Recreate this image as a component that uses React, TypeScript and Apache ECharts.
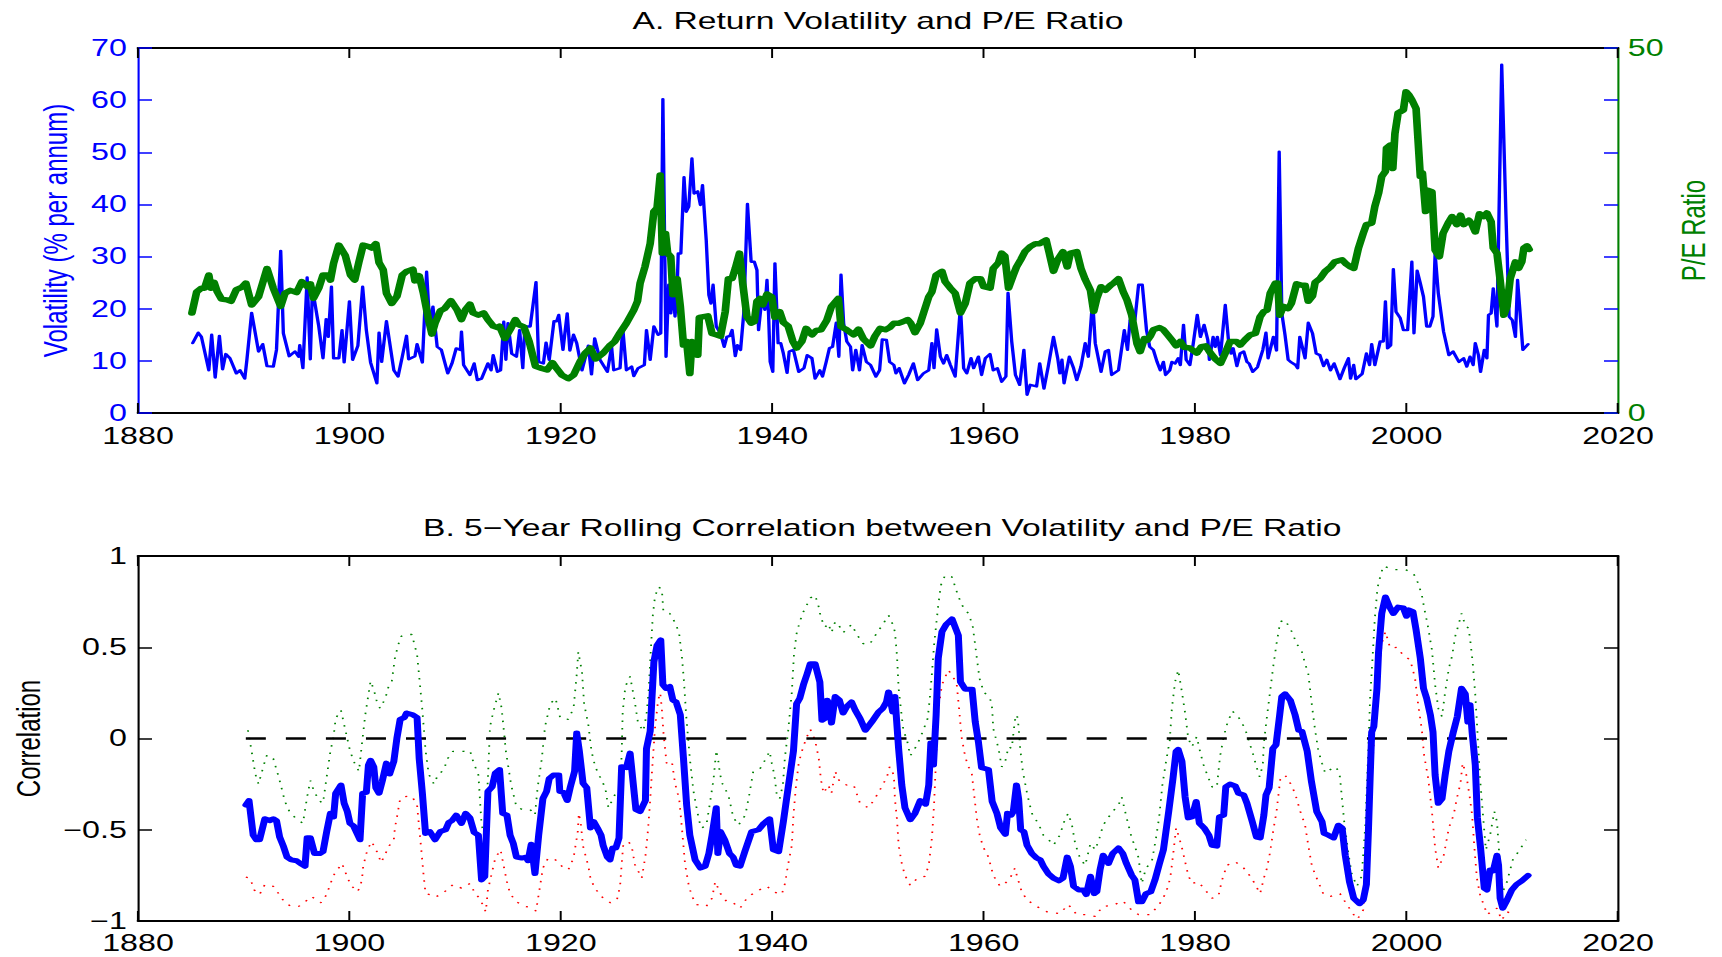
import React, { useEffect, useRef } from "react";
import * as echarts from "echarts";

// The reference figure is horizontally stretched (text and dots are wider than tall).
const STRETCH = 1.4;
const FULL_W = 1722;
const FULL_H = 957;
const W = FULL_W / STRETCH;

const FONT = "'Liberation Sans', Arial, Helvetica, sans-serif";
const BLUE = "#0000ff";
const GREEN = "#008000";
const RED = "#ff0000";
const BLACK = "#000000";

const titleA = "A. Return Volatility and P/E Ratio";
const titleB = "B. 5\u2212Year Rolling Correlation between Volatility and P/E Ratio";
const volName = "Volatility (% per annum)";
const peName = "P/E Ratio";
const corrName = "Correlation";

const yearMin = 1880;
const yearMax = 2020;
const yearStep = 20;

// Panel A: return volatility (% per annum), [year, value]
const volData: [number, number][] = [
  [1885.17,13.4],[1885.7,15.4],[1886.0,14.6],[1886.7,8.2],[1886.97,15.0],[1887.3,6.8],[1887.7,14.8],[1888.0,8.4],[1888.3,11.3],[1888.7,10.5],
  [1889.3,7.6],[1889.65,8.2],[1890.1,6.6],[1890.3,10.2],[1890.75,19.2],[1891.4,11.8],[1891.8,13.2],[1892.2,9.0],[1892.8,8.9],[1893.1,12.1],
  [1893.5,31.1],[1893.75,15.3],[1894.3,10.9],[1894.85,11.8],[1895.2,10.8],[1895.3,13.0],[1895.6,8.6],[1896.0,26.0],[1896.3,10.3],[1896.5,23.9],
  [1897.1,16.6],[1897.5,10.5],[1897.8,18.0],[1898.0,14.6],[1898.3,24.2],[1898.5,10.5],[1899.0,10.5],[1899.3,15.9],[1899.5,9.7],[1900.0,21.4],
  [1900.3,10.2],[1900.8,12.9],[1901.25,24.2],[1901.6,15.9],[1902.0,9.7],[1902.6,5.7],[1902.8,15.4],[1903.05,9.8],[1903.5,17.6],[1904.2,8.2],
  [1904.6,7.0],[1905.0,10.8],[1905.4,14.8],[1905.6,10.3],[1906.2,10.9],[1906.4,13.2],[1906.9,9.7],[1907.3,27.1],[1907.6,16.6],[1907.9,20.4],
  [1908.3,12.7],[1908.7,12.1],[1909.3,7.6],[1909.7,9.5],[1910.1,12.4],[1910.5,12.1],[1910.6,15.6],[1910.8,9.2],[1911.4,7.3],[1911.8,9.5],
  [1912.1,6.3],[1912.5,6.6],[1913.1,9.5],[1913.4,8.2],[1913.6,11.1],[1914.0,7.9],[1914.3,8.2],[1914.6,17.5],[1914.8,10.2],[1915.0,17.2],
  [1915.35,11.4],[1915.8,10.8],[1916.1,15.9],[1916.4,8.6],[1916.6,16.6],[1917.1,16.6],[1917.65,25.1],[1917.9,9.8],[1918.35,9.5],[1918.6,13.5],
  [1918.9,10.2],[1919.35,17.6],[1919.6,17.6],[1919.8,18.8],[1920.2,12.1],[1920.6,19.1],[1920.85,12.0],[1921.2,15.0],[1921.5,13.4],[1922.0,8.2],
  [1922.6,12.9],[1922.9,7.4],[1923.2,14.3],[1923.7,10.2],[1924.4,7.9],[1924.8,12.7],[1925.0,8.2],[1925.6,8.6],[1925.85,16.4],[1926.2,8.2],
  [1926.7,8.9],[1926.9,7.1],[1927.3,8.6],[1927.9,9.2],[1928.1,15.9],[1928.45,10.2],[1928.8,16.6],[1929.2,15.0],[1929.45,15.3],[1929.65,60.2],
  [1929.95,10.8],[1930.2,24.6],[1930.4,19.1],[1930.6,23.6],[1930.8,18.5],[1931.0,23.9],[1931.1,30.6],[1931.35,30.6],[1931.65,45.2],[1931.85,38.6],
  [1932.1,39.6],[1932.4,48.8],[1932.6,42.1],[1932.95,42.5],[1933.2,39.9],[1933.4,43.7],[1933.75,33.2],[1934.0,22.6],[1934.2,21.0],[1934.4,24.6],
  [1934.7,16.6],[1935.1,15.3],[1935.45,12.7],[1935.7,14.6],[1936.0,14.8],[1936.2,15.9],[1936.5,10.9],[1936.7,13.0],[1937.0,12.1],[1937.3,19.1],
  [1937.65,40.1],[1938.0,29.0],[1938.3,29.0],[1938.55,27.4],[1938.7,15.9],[1939.0,21.7],[1939.3,19.8],[1939.5,25.5],[1939.65,18.8],[1939.8,9.8],
  [1940.05,7.9],[1940.25,28.7],[1940.55,13.4],[1940.8,13.4],[1941.05,11.4],[1941.4,7.7],[1941.6,11.8],[1942.0,12.1],[1942.5,7.9],[1943.0,8.6],
  [1943.3,11.1],[1943.75,10.5],[1944.05,6.6],[1944.5,8.2],[1944.75,7.0],[1945.1,9.8],[1945.4,12.4],[1945.7,12.7],[1946.05,17.3],[1946.3,10.8],
  [1946.5,26.5],[1946.75,17.2],[1947.05,13.7],[1947.4,12.7],[1947.6,8.2],[1947.9,12.1],[1948.25,8.2],[1948.5,13.0],[1948.9,9.8],[1949.3,9.2],
  [1949.8,7.0],[1950.15,8.2],[1950.4,14.1],[1950.8,14.0],[1951.1,9.8],[1951.5,9.2],[1951.7,7.6],[1952.0,8.6],[1952.5,5.7],[1952.9,7.3],
  [1953.35,9.5],[1953.75,6.3],[1954.3,7.6],[1954.8,8.2],[1955.1,13.4],[1955.3,8.6],[1955.55,16.0],[1955.9,10.8],[1956.2,9.5],[1956.5,11.1],
  [1956.85,9.2],[1957.3,7.0],[1957.8,20.4],[1958.1,8.6],[1958.4,7.6],[1958.8,10.5],[1959.05,8.6],[1959.5,10.8],[1959.8,7.3],[1960.15,10.5],
  [1960.6,11.3],[1960.9,8.2],[1961.3,8.6],[1961.7,6.0],[1962.1,7.0],[1962.3,23.0],[1962.65,13.7],[1963.0,7.3],[1963.4,5.4],[1963.8,12.1],
  [1964.1,3.5],[1964.4,5.4],[1965.0,5.1],[1965.3,9.5],[1965.7,4.7],[1966.1,8.9],[1966.6,14.6],[1967.0,10.5],[1967.2,7.6],[1967.4,10.2],
  [1967.6,5.7],[1968.1,10.8],[1968.5,8.6],[1968.8,6.3],[1969.2,8.9],[1969.6,13.4],[1969.9,10.8],[1970.3,21.7],[1970.55,13.4],[1971.1,7.9],
  [1971.5,11.8],[1971.8,12.1],[1972.1,7.3],[1972.75,8.2],[1973.3,15.9],[1973.6,12.1],[1973.85,17.8],[1974.3,17.8],[1974.65,24.6],[1975.0,24.6],
  [1975.4,15.9],[1975.7,12.7],[1976.05,12.1],[1976.4,9.8],[1976.7,8.2],[1977.0,9.8],[1977.2,7.3],[1977.6,8.2],[1977.8,9.8],[1978.1,9.5],
  [1978.4,10.5],[1978.6,9.2],[1978.9,16.9],[1979.15,10.2],[1979.5,9.2],[1979.8,13.0],[1980.2,18.8],[1980.5,14.6],[1980.85,16.9],[1981.2,14.0],
  [1981.35,10.2],[1981.7,14.6],[1981.9,12.7],[1982.1,14.6],[1982.4,11.1],[1982.85,20.7],[1983.15,14.0],[1983.4,11.4],[1983.6,12.4],[1983.95,9.0],
  [1984.25,11.4],[1984.6,11.8],[1984.9,9.8],[1985.1,9.5],[1985.45,7.9],[1985.9,8.8],[1986.4,12.1],[1986.7,15.4],[1986.9,10.5],[1987.4,14.6],
  [1987.7,12.0],[1987.95,50.1],[1988.2,19.1],[1988.5,15.0],[1988.8,10.2],[1989.1,9.7],[1989.5,9.2],[1989.7,8.6],[1989.9,14.6],[1990.4,10.5],
  [1990.7,17.3],[1991.1,15.3],[1991.45,11.4],[1991.8,11.1],[1992.15,9.0],[1992.45,10.2],[1992.8,8.2],[1993.15,9.5],[1993.7,6.5],[1994.1,8.6],
  [1994.5,10.5],[1994.7,6.6],[1995.0,9.2],[1995.2,6.5],[1995.8,7.5],[1996.2,11.4],[1996.5,9.2],[1996.7,13.2],[1997.0,9.2],[1997.5,13.7],
  [1997.8,13.7],[1998.0,21.4],[1998.2,12.4],[1998.5,13.0],[1998.75,27.6],[1999.0,19.4],[1999.4,18.2],[1999.7,15.9],[2000.1,15.9],[2000.5,29.0],
  [2000.7,15.3],[2001.0,27.3],[2001.3,24.9],[2001.6,22.3],[2001.9,16.6],[2002.2,16.6],[2002.5,18.5],[2002.7,30.6],[2003.0,23.0],[2003.5,15.6],
  [2004.0,11.1],[2004.4,11.8],[2004.95,9.8],[2005.4,10.5],[2005.7,8.9],[2006.0,10.8],[2006.3,9.2],[2006.5,13.4],[2006.8,11.1],[2007.0,7.9],
  [2007.35,12.1],[2007.6,10.5],[2007.75,18.8],[2008.0,19.1],[2008.2,23.9],[2008.55,16.6],[2009.0,66.8],[2009.4,38.0],[2009.7,18.5],[2010.0,17.8],
  [2010.3,14.6],[2010.5,25.5],[2011.0,12.1],[2011.5,13.2]
];

// Panel A: P/E ratio (right axis), [year, value]
const peData: [number, number][] = [
  [1885.1,13.7],[1885.55,16.6],[1886.0,17.1],[1886.3,17.1],[1886.7,18.9],[1886.9,17.1],[1887.2,17.9],[1887.5,16.6],[1887.9,15.6],[1888.4,15.5],
  [1888.8,15.3],[1889.3,16.9],[1889.8,17.2],[1890.2,17.8],[1890.75,14.8],[1891.4,15.9],[1892.2,19.8],[1892.8,17.1],[1893.5,14.6],[1893.9,16.4],
  [1894.4,16.8],[1895.0,16.5],[1895.5,18.0],[1896.0,17.3],[1896.3,17.7],[1896.6,15.7],[1897.1,17.1],[1897.5,18.9],[1898.0,18.9],[1898.2,18.2],
  [1898.5,20.5],[1899.0,23.0],[1899.6,21.6],[1900.1,18.9],[1900.5,18.2],[1900.9,20.7],[1901.3,23.0],[1901.8,22.8],[1902.1,22.6],[1902.5,23.2],
  [1902.8,20.6],[1903.2,19.6],[1903.5,16.4],[1904.0,15.0],[1904.5,16.0],[1905.0,18.9],[1905.4,19.4],[1906.0,19.7],[1906.2,18.1],[1906.6,18.8],
  [1907.0,16.4],[1907.5,12.7],[1907.8,10.8],[1908.1,12.3],[1908.6,14.0],[1909.0,14.3],[1909.6,15.4],[1910.2,14.1],[1910.6,12.8],[1911.0,14.2],
  [1911.4,14.9],[1911.7,13.7],[1912.2,13.4],[1912.7,13.7],[1913.1,12.8],[1913.6,11.9],[1914.0,11.7],[1914.2,11.9],[1914.7,10.2],[1915.2,11.4],
  [1915.7,12.8],[1916.0,12.1],[1916.5,11.8],[1917.0,9.8],[1917.6,6.4],[1918.2,6.1],[1918.7,5.9],[1919.2,6.9],[1919.6,6.1],[1920.1,5.2],
  [1920.7,4.7],[1921.2,5.2],[1921.8,7.0],[1922.3,8.2],[1922.8,8.9],[1923.3,7.4],[1924.0,8.2],[1924.6,9.2],[1925.1,9.8],[1925.6,11.0],
  [1926.2,12.3],[1926.9,14.1],[1927.25,15.3],[1927.5,17.8],[1927.95,20.0],[1928.45,23.2],[1928.8,27.6],[1929.1,28.1],[1929.4,32.6],[1929.6,21.9],
  [1929.9,24.6],[1930.1,21.9],[1930.4,21.4],[1930.6,16.2],[1931.0,18.4],[1931.3,14.6],[1931.6,9.3],[1931.9,9.8],[1932.2,5.4],[1932.4,9.8],
  [1932.65,9.3],[1932.95,7.9],[1933.1,13.1],[1933.5,13.2],[1933.9,13.3],[1934.3,10.9],[1934.7,10.7],[1935.1,10.5],[1935.55,13.9],[1935.85,18.4],
  [1936.2,18.4],[1936.5,19.8],[1936.9,21.9],[1937.2,17.8],[1937.6,13.2],[1938.0,12.3],[1938.3,12.5],[1938.55,15.3],[1938.85,15.7],[1939.1,14.8],
  [1939.5,16.3],[1939.95,15.9],[1940.25,13.1],[1940.7,13.9],[1941.05,12.4],[1941.5,11.9],[1941.95,9.8],[1942.3,8.9],[1942.8,9.8],[1943.2,11.6],
  [1943.75,10.7],[1944.15,11.3],[1944.6,11.4],[1945.15,12.7],[1945.6,14.6],[1946.25,15.7],[1946.5,11.8],[1947.05,11.4],[1947.7,10.7],[1948.15,11.5],
  [1948.6,10.2],[1949.3,9.2],[1949.7,10.5],[1950.2,11.6],[1950.7,11.4],[1951.1,11.7],[1951.5,12.3],[1951.95,12.3],[1952.35,12.5],[1952.8,12.8],
  [1953.1,12.3],[1953.5,11.0],[1954.0,12.3],[1954.35,13.9],[1954.8,15.9],[1955.1,16.6],[1955.5,18.9],[1956.05,19.4],[1956.35,18.0],[1956.85,17.1],
  [1957.3,16.4],[1957.8,13.7],[1958.25,15.0],[1958.7,17.8],[1959.2,18.4],[1959.7,18.4],[1960.0,17.3],[1960.6,17.1],[1960.9,19.8],[1961.4,20.6],
  [1961.7,21.9],[1962.0,21.5],[1962.35,17.1],[1962.8,18.9],[1963.1,20.0],[1963.5,21.0],[1963.9,22.1],[1964.4,22.8],[1964.9,23.2],[1965.3,23.2],
  [1965.65,23.5],[1965.9,23.7],[1966.2,21.9],[1966.6,19.4],[1967.0,21.0],[1967.5,22.1],[1967.9,20.0],[1968.2,21.9],[1968.8,22.1],[1969.2,19.8],
  [1969.6,18.3],[1970.1,16.8],[1970.4,13.9],[1970.7,15.7],[1971.1,17.3],[1971.5,16.8],[1972.0,17.5],[1972.3,17.8],[1972.75,18.4],[1973.2,16.6],
  [1973.55,15.5],[1974.0,13.4],[1974.5,9.5],[1974.8,8.4],[1975.2,10.2],[1975.5,10.0],[1975.75,10.5],[1976.05,11.4],[1976.6,11.7],[1977.0,11.4],
  [1977.4,10.7],[1977.9,9.8],[1978.2,9.2],[1978.6,9.8],[1978.95,9.0],[1979.5,8.9],[1980.15,8.2],[1980.6,9.1],[1981.0,9.2],[1981.4,8.3],
  [1981.9,7.4],[1982.4,6.8],[1982.85,8.2],[1983.3,9.8],[1983.9,9.8],[1984.25,9.3],[1984.7,10.0],[1985.2,10.7],[1985.7,10.9],[1986.15,13.2],
  [1986.5,13.9],[1986.8,14.1],[1987.1,16.4],[1987.6,17.8],[1987.8,17.8],[1988.0,13.4],[1988.35,14.6],[1988.8,14.3],[1989.1,15.0],[1989.6,17.7],
  [1990.1,17.5],[1990.4,17.5],[1990.7,15.3],[1991.1,16.0],[1991.35,17.9],[1991.8,18.4],[1992.3,19.4],[1992.8,20.0],[1993.2,20.7],[1993.9,21.0],
  [1994.3,20.4],[1994.7,20.0],[1995.0,19.8],[1995.45,22.6],[1995.9,24.6],[1996.2,25.8],[1996.7,26.0],[1997.0,28.3],[1997.35,30.1],[1997.65,32.4],
  [1998.0,33.1],[1998.1,36.3],[1998.45,36.7],[1998.7,33.5],[1998.9,38.3],[1999.2,41.1],[1999.7,41.5],[1999.95,44.0],[2000.2,43.6],[2000.5,42.9],
  [2000.9,41.7],[2001.3,32.4],[2001.5,32.9],[2001.8,27.6],[2002.0,30.5],[2002.4,30.3],[2002.7,22.3],[2003.1,21.4],[2003.45,24.6],[2004.0,26.2],
  [2004.3,26.9],[2004.75,25.8],[2005.1,27.1],[2005.4,25.8],[2005.9,26.4],[2006.2,25.8],[2006.5,24.8],[2006.9,27.3],[2007.3,26.9],[2007.6,27.4],
  [2008.0,26.2],[2008.2,22.6],[2008.55,21.9],[2008.85,18.2],[2009.2,13.4],[2009.5,14.6],[2009.8,18.4],[2010.3,20.7],[2010.6,19.8],[2010.9,20.7],
  [2011.1,22.6],[2011.4,22.9],[2011.6,22.4]
];

// Panel B: 5-year rolling correlation, [year, value]
const corrData: [number, number][] = [
  [1890.2,-0.365],[1890.5,-0.34],[1890.9,-0.53],[1891.2,-0.555],[1891.5,-0.555],[1892.0,-0.44],[1892.5,-0.45],[1892.8,-0.44],[1893.1,-0.45],[1893.4,-0.54],
  [1893.75,-0.59],[1894.1,-0.65],[1894.5,-0.665],[1895.0,-0.67],[1895.5,-0.69],[1895.8,-0.70],[1896.0,-0.544],[1896.3,-0.544],[1896.7,-0.63],[1897.2,-0.63],
  [1897.5,-0.62],[1897.85,-0.51],[1898.2,-0.41],[1898.5,-0.43],[1898.7,-0.30],[1899.2,-0.255],[1899.5,-0.355],[1899.8,-0.40],[1900.05,-0.465],[1900.4,-0.48],
  [1901.0,-0.555],[1901.25,-0.30],[1901.6,-0.295],[1901.8,-0.145],[1902.0,-0.12],[1902.3,-0.155],[1902.5,-0.27],[1902.8,-0.30],[1903.1,-0.235],[1903.5,-0.135],
  [1903.8,-0.195],[1904.2,-0.125],[1904.5,0.005],[1904.8,0.105],[1905.2,0.115],[1905.4,0.14],[1906.0,0.13],[1906.4,0.115],[1906.6,-0.11],[1906.9,-0.30],
  [1907.2,-0.52],[1907.6,-0.51],[1908.1,-0.555],[1908.6,-0.51],[1909.1,-0.50],[1909.4,-0.46],[1909.7,-0.45],[1910.1,-0.42],[1910.6,-0.465],[1911.0,-0.41],
  [1911.4,-0.435],[1911.8,-0.515],[1912.2,-0.53],[1912.5,-0.775],[1912.8,-0.757],[1913.1,-0.29],[1913.5,-0.265],[1913.8,-0.19],[1914.2,-0.17],[1914.5,-0.41],
  [1914.9,-0.42],[1915.2,-0.53],[1915.5,-0.575],[1915.8,-0.65],[1916.3,-0.655],[1916.7,-0.65],[1916.9,-0.67],[1917.2,-0.58],[1917.55,-0.74],[1917.9,-0.53],
  [1918.3,-0.33],[1918.65,-0.29],[1918.9,-0.22],[1919.3,-0.20],[1919.8,-0.20],[1919.9,-0.29],[1920.25,-0.295],[1920.6,-0.34],[1920.9,-0.265],[1921.3,-0.18],
  [1921.5,0.03],[1921.75,-0.07],[1922.1,-0.245],[1922.45,-0.27],[1922.8,-0.49],[1923.1,-0.455],[1923.45,-0.49],[1923.8,-0.53],[1924.0,-0.585],[1924.4,-0.65],
  [1924.65,-0.665],[1924.9,-0.60],[1925.2,-0.60],[1925.5,-0.545],[1925.75,-0.155],[1926.2,-0.16],[1926.55,-0.08],[1927.1,-0.39],[1927.5,-0.40],[1928.0,-0.34],
  [1928.1,-0.055],[1928.45,0.04],[1928.8,0.42],[1929.1,0.51],[1929.45,0.54],[1929.65,0.295],[1929.95,0.275],[1930.3,0.285],[1930.6,0.21],[1930.9,0.20],
  [1931.3,0.13],[1931.6,-0.11],[1931.9,-0.365],[1932.2,-0.53],[1932.7,-0.665],[1933.2,-0.71],[1933.65,-0.70],[1934.0,-0.63],[1934.3,-0.53],[1934.7,-0.38],
  [1934.85,-0.63],[1935.1,-0.51],[1935.5,-0.555],[1935.95,-0.63],[1936.3,-0.65],[1936.6,-0.695],[1936.95,-0.70],[1937.4,-0.62],[1938.05,-0.51],[1938.7,-0.50],
  [1939.2,-0.465],[1939.75,-0.44],[1940.1,-0.61],[1940.6,-0.62],[1941.05,-0.455],[1941.5,-0.27],[1942.0,-0.07],[1942.3,0.19],[1942.6,0.22],[1942.95,0.295],
  [1943.3,0.355],[1943.6,0.41],[1944.05,0.41],[1944.5,0.31],[1944.7,0.10],[1945.0,0.11],[1945.2,0.21],[1945.4,0.185],[1945.6,0.085],[1945.95,0.23],
  [1946.35,0.21],[1946.7,0.14],[1947.05,0.175],[1947.5,0.20],[1947.85,0.155],[1948.3,0.11],[1948.8,0.045],[1949.4,0.09],[1950.05,0.145],[1950.45,0.165],
  [1950.8,0.20],[1951.0,0.255],[1951.2,0.20],[1951.4,0.145],[1951.6,0.23],[1951.95,-0.055],[1952.25,-0.255],[1952.55,-0.38],[1953.05,-0.445],[1953.5,-0.41],
  [1954.0,-0.34],[1954.5,-0.36],[1954.8,-0.255],[1955.0,-0.025],[1955.25,-0.145],[1955.5,0.13],[1955.7,0.44],[1956.05,0.585],[1956.45,0.625],[1957.0,0.655],
  [1957.3,0.61],[1957.6,0.565],[1957.8,0.31],[1958.25,0.27],[1958.9,0.27],[1959.2,0.09],[1959.5,-0.02],[1959.8,-0.16],[1960.45,-0.17],[1960.8,-0.345],
  [1961.25,-0.41],[1961.6,-0.49],[1962.05,-0.525],[1962.25,-0.41],[1962.6,-0.42],[1962.8,-0.40],[1963.1,-0.255],[1963.3,-0.33],[1963.5,-0.50],[1963.8,-0.51],
  [1964.1,-0.585],[1964.55,-0.63],[1965.0,-0.655],[1965.35,-0.665],[1965.65,-0.70],[1966.1,-0.74],[1966.6,-0.765],[1967.1,-0.78],[1967.5,-0.765],[1967.9,-0.65],
  [1968.2,-0.70],[1968.5,-0.81],[1969.0,-0.83],[1969.45,-0.83],[1969.7,-0.855],[1970.1,-0.755],[1970.45,-0.85],[1970.7,-0.84],[1971.0,-0.72],[1971.3,-0.64],
  [1971.8,-0.685],[1972.2,-0.63],[1972.75,-0.60],[1973.15,-0.63],[1973.5,-0.685],[1974.0,-0.75],[1974.3,-0.775],[1974.65,-0.895],[1974.95,-0.895],[1975.35,-0.85],
  [1975.8,-0.84],[1976.2,-0.775],[1976.6,-0.69],[1977.0,-0.61],[1977.5,-0.40],[1977.9,-0.22],[1978.2,-0.07],[1978.4,-0.06],[1978.75,-0.125],[1979.05,-0.32],
  [1979.35,-0.435],[1979.7,-0.43],[1980.1,-0.345],[1980.4,-0.465],[1980.85,-0.49],[1981.3,-0.53],[1981.6,-0.585],[1982.05,-0.59],[1982.3,-0.43],[1982.7,-0.42],
  [1982.9,-0.265],[1983.3,-0.25],[1983.8,-0.26],[1984.1,-0.30],[1984.6,-0.31],[1984.9,-0.355],[1985.4,-0.455],[1985.8,-0.54],[1986.15,-0.545],[1986.5,-0.42],
  [1986.7,-0.31],[1987.0,-0.27],[1987.35,-0.055],[1987.65,-0.035],[1988.0,0.13],[1988.2,0.23],[1988.5,0.245],[1989.0,0.21],[1989.45,0.13],[1989.8,0.045],
  [1990.1,0.04],[1990.6,-0.07],[1991.0,-0.235],[1991.5,-0.40],[1992.0,-0.455],[1992.2,-0.52],[1992.6,-0.53],[1993.1,-0.545],[1993.55,-0.475],[1993.9,-0.49],
  [1994.2,-0.64],[1994.6,-0.785],[1995.0,-0.875],[1995.55,-0.905],[1995.9,-0.885],[1996.2,-0.80],[1996.4,-0.49],[1996.55,-0.22],[1996.7,0.035],[1996.9,0.065],
  [1997.2,0.275],[1997.35,0.475],[1997.65,0.685],[1998.0,0.775],[1998.4,0.72],[1998.75,0.685],[1999.2,0.72],[1999.7,0.715],[2000.0,0.67],[2000.2,0.705],
  [2000.6,0.695],[2000.9,0.595],[2001.3,0.44],[2001.6,0.275],[2001.9,0.22],[2002.25,0.13],[2002.5,0.035],[2002.7,-0.20],[2003.0,-0.355],[2003.35,-0.33],
  [2003.65,-0.20],[2004.0,-0.07],[2004.4,0.03],[2004.8,0.12],[2005.2,0.275],[2005.55,0.245],[2005.8,0.09],[2006.0,0.185],[2006.2,0.035],[2006.5,-0.145],
  [2006.7,-0.435],[2007.0,-0.60],[2007.35,-0.82],[2007.6,-0.83],[2007.9,-0.72],[2008.2,-0.725],[2008.55,-0.64],[2008.7,-0.695],[2008.85,-0.875],[2009.1,-0.93],
  [2009.5,-0.885],[2009.95,-0.83],[2010.4,-0.80],[2010.9,-0.78],[2011.5,-0.75]
];

// Panel B: upper confidence band (green dotted)
const upperData: [number, number][] = [
  [1890.4,0.045],[1890.75,-0.07],[1891.1,-0.195],[1891.4,-0.25],[1891.9,-0.145],[1892.2,-0.09],[1892.8,-0.11],[1893.4,-0.23],[1893.9,-0.345],[1894.4,-0.41],
  [1895.0,-0.44],[1895.6,-0.465],[1896.0,-0.32],[1896.3,-0.23],[1896.6,-0.28],[1897.1,-0.34],[1897.5,-0.355],[1897.8,-0.23],[1898.2,-0.07],[1898.5,0.01],
  [1898.7,0.11],[1899.2,0.155],[1899.6,0.05],[1900.05,-0.065],[1900.4,-0.125],[1900.9,-0.18],[1901.2,-0.02],[1901.5,0.13],[1902.0,0.315],[1902.3,0.27],
  [1902.6,0.20],[1902.9,0.165],[1903.4,0.22],[1903.7,0.285],[1904.0,0.31],[1904.3,0.44],[1904.6,0.51],[1904.9,0.56],[1905.4,0.57],[1905.9,0.57],
  [1906.4,0.46],[1906.6,0.34],[1906.9,0.155],[1907.2,-0.065],[1907.5,-0.195],[1908.0,-0.25],[1908.4,-0.195],[1908.9,-0.175],[1909.3,-0.11],[1909.8,-0.07],
  [1910.8,-0.07],[1911.4,-0.065],[1911.7,-0.125],[1912.2,-0.20],[1912.5,-0.475],[1912.7,-0.51],[1912.9,-0.42],[1913.1,-0.22],[1913.3,0.065],[1913.6,0.145],
  [1914.1,0.25],[1914.4,0.165],[1914.8,-0.07],[1915.3,-0.255],[1915.8,-0.375],[1916.4,-0.39],[1917.1,-0.39],[1917.55,-0.42],[1917.8,-0.27],[1918.2,-0.11],
  [1918.5,0.065],[1919.0,0.19],[1919.5,0.22],[1919.95,0.11],[1920.7,0.105],[1921.2,0.165],[1921.5,0.35],[1921.65,0.475],[1922.0,0.365],[1922.2,0.19],
  [1922.6,0.075],[1922.9,-0.07],[1923.25,-0.155],[1923.7,-0.21],[1924.2,-0.27],[1924.5,-0.38],[1924.8,-0.345],[1925.1,-0.31],[1925.6,-0.27],[1925.75,-0.09],
  [1925.85,0.145],[1926.1,0.285],[1926.55,0.34],[1927.0,0.20],[1927.3,0.085],[1927.8,0.04],[1928.1,0.13],[1928.3,0.255],[1928.5,0.475],[1928.7,0.675],
  [1928.9,0.775],[1929.2,0.83],[1929.55,0.82],[1929.7,0.695],[1930.3,0.685],[1930.9,0.625],[1931.2,0.57],[1931.45,0.45],[1931.65,0.31],[1931.85,0.13],
  [1932.2,-0.11],[1932.55,-0.29],[1932.9,-0.40],[1933.25,-0.49],[1933.75,-0.48],[1934.1,-0.355],[1934.45,-0.22],[1934.7,-0.065],[1934.9,-0.125],[1935.05,-0.195],
  [1935.3,-0.25],[1935.85,-0.31],[1936.3,-0.43],[1936.8,-0.475],[1937.45,-0.42],[1937.85,-0.30],[1938.2,-0.18],[1938.8,-0.17],[1939.3,-0.12],[1939.75,-0.07],
  [1939.95,-0.135],[1940.2,-0.20],[1940.45,-0.32],[1940.7,-0.33],[1941.0,-0.255],[1941.2,-0.10],[1941.5,0.04],[1941.85,0.255],[1942.05,0.46],[1942.3,0.575],
  [1942.6,0.64],[1942.95,0.695],[1943.6,0.77],[1944.05,0.785],[1944.4,0.72],[1944.6,0.66],[1945.0,0.61],[1945.3,0.63],[1945.6,0.58],[1945.95,0.64],
  [1946.3,0.62],[1946.7,0.58],[1947.5,0.625],[1948.0,0.57],[1948.6,0.52],[1949.2,0.515],[1949.8,0.57],[1950.45,0.625],[1951.0,0.675],[1951.3,0.64],
  [1951.6,0.585],[1951.8,0.45],[1951.95,0.275],[1952.2,0.145],[1952.4,0.045],[1952.75,-0.01],[1953.05,-0.095],[1953.7,-0.035],[1954.25,0.04],[1954.7,0.11],
  [1954.9,0.22],[1955.1,0.355],[1955.3,0.51],[1955.5,0.62],[1955.7,0.73],[1955.95,0.84],[1956.35,0.895],[1957.0,0.885],[1957.45,0.805],[1957.8,0.75],
  [1958.1,0.715],[1958.55,0.685],[1958.95,0.62],[1959.2,0.51],[1959.35,0.44],[1959.6,0.33],[1960.0,0.255],[1960.6,0.22],[1960.8,0.165],[1960.9,0.055],
  [1961.4,-0.055],[1961.7,-0.155],[1962.0,-0.135],[1962.35,-0.045],[1962.65,-0.055],[1962.95,0.10],[1963.15,0.13],[1963.3,0.065],[1963.45,-0.055],[1963.7,-0.18],
  [1964.1,-0.30],[1964.55,-0.41],[1965.2,-0.47],[1965.65,-0.53],[1966.15,-0.555],[1966.6,-0.585],[1967.2,-0.53],[1967.7,-0.44],[1968.0,-0.41],[1968.35,-0.475],
  [1968.65,-0.575],[1969.1,-0.655],[1969.6,-0.695],[1970.1,-0.575],[1970.55,-0.61],[1970.95,-0.545],[1971.3,-0.475],[1971.7,-0.44],[1972.2,-0.40],[1972.75,-0.365],
  [1973.05,-0.32],[1973.5,-0.43],[1974.0,-0.545],[1974.3,-0.59],[1974.65,-0.655],[1974.95,-0.795],[1975.35,-0.71],[1975.9,-0.675],[1976.3,-0.545],[1976.6,-0.43],
  [1976.9,-0.255],[1977.25,-0.125],[1977.6,-0.01],[1977.8,0.165],[1978.1,0.31],[1978.4,0.375],[1978.75,0.255],[1979.05,0.14],[1979.35,0.0],[1979.7,-0.045],
  [1980.15,0.01],[1980.5,-0.08],[1980.8,-0.145],[1981.15,-0.20],[1981.6,-0.265],[1982.05,-0.27],[1982.35,-0.10],[1982.7,0.01],[1983.0,0.075],[1983.5,0.15],
  [1983.95,0.13],[1984.4,0.09],[1984.8,0.04],[1985.2,-0.035],[1985.5,-0.09],[1985.8,-0.155],[1986.1,-0.21],[1986.4,-0.145],[1986.5,-0.025],[1986.75,0.10],
  [1987.15,0.285],[1987.4,0.40],[1987.7,0.52],[1988.05,0.64],[1988.5,0.65],[1989.15,0.585],[1989.6,0.52],[1990.1,0.475],[1990.4,0.41],[1990.7,0.355],
  [1991.05,0.18],[1991.35,0.045],[1991.65,-0.065],[1992.0,-0.135],[1992.3,-0.19],[1992.8,-0.17],[1993.35,-0.155],[1993.7,-0.21],[1993.9,-0.335],[1994.1,-0.455],
  [1994.5,-0.63],[1994.8,-0.74],[1995.3,-0.81],[1995.75,-0.755],[1996.1,-0.475],[1996.4,-0.035],[1996.55,0.22],[1996.8,0.46],[1997.0,0.66],[1997.25,0.825],
  [1997.5,0.885],[1997.8,0.945],[1998.75,0.925],[1999.9,0.925],[2000.65,0.905],[2001.1,0.85],[2001.45,0.785],[2001.65,0.72],[2002.05,0.605],[2002.4,0.485],
  [2002.7,0.295],[2003.0,0.165],[2003.35,0.12],[2003.65,0.255],[2004.0,0.385],[2004.3,0.45],[2004.6,0.56],[2004.9,0.62],[2005.2,0.685],[2005.55,0.62],
  [2005.85,0.605],[2006.0,0.55],[2006.25,0.42],[2006.5,0.24],[2006.7,0.04],[2006.95,-0.22],[2007.2,-0.40],[2007.5,-0.61],[2007.9,-0.53],[2008.3,-0.40],
  [2008.55,-0.455],[2008.85,-0.70],[2009.1,-0.84],[2009.5,-0.785],[2010.05,-0.665],[2010.7,-0.61],[2011.3,-0.555]
];

// Panel B: lower confidence band (red dotted)
const lowerData: [number, number][] = [
  [1890.2,-0.76],[1890.6,-0.765],[1891.0,-0.83],[1891.5,-0.855],[1892.0,-0.80],[1892.8,-0.81],[1893.3,-0.85],[1893.9,-0.90],[1894.5,-0.92],[1895.2,-0.92],
  [1895.8,-0.895],[1896.4,-0.865],[1896.9,-0.885],[1897.3,-0.90],[1897.85,-0.855],[1898.2,-0.795],[1898.6,-0.74],[1899.3,-0.685],[1899.7,-0.745],[1900.1,-0.80],
  [1900.7,-0.84],[1901.0,-0.82],[1901.2,-0.765],[1901.3,-0.70],[1901.7,-0.61],[1902.1,-0.565],[1902.6,-0.62],[1903.0,-0.68],[1903.5,-0.62],[1903.8,-0.585],
  [1904.2,-0.555],[1904.3,-0.49],[1904.5,-0.43],[1904.8,-0.33],[1905.1,-0.32],[1905.9,-0.315],[1906.4,-0.365],[1906.6,-0.49],[1906.8,-0.61],[1907.0,-0.74],
  [1907.2,-0.85],[1907.6,-0.855],[1908.1,-0.87],[1908.6,-0.855],[1909.1,-0.835],[1909.8,-0.80],[1910.6,-0.82],[1911.4,-0.795],[1911.9,-0.85],[1912.3,-0.875],
  [1912.6,-0.91],[1912.9,-0.95],[1913.1,-0.83],[1913.5,-0.73],[1913.8,-0.655],[1914.3,-0.61],[1914.6,-0.70],[1914.9,-0.785],[1915.2,-0.85],[1915.8,-0.895],
  [1916.6,-0.92],[1917.1,-0.925],[1917.65,-0.945],[1918.0,-0.82],[1918.3,-0.71],[1918.8,-0.655],[1919.5,-0.665],[1920.1,-0.70],[1920.7,-0.72],[1921.2,-0.655],
  [1921.6,-0.51],[1921.7,-0.41],[1921.9,-0.475],[1922.1,-0.59],[1922.6,-0.70],[1922.8,-0.765],[1923.2,-0.82],[1924.0,-0.875],[1924.7,-0.90],[1925.3,-0.885],
  [1925.6,-0.81],[1925.75,-0.69],[1925.9,-0.585],[1926.4,-0.565],[1926.7,-0.59],[1927.0,-0.69],[1927.65,-0.765],[1928.0,-0.645],[1928.2,-0.53],[1928.4,-0.38],
  [1928.6,-0.20],[1928.9,0.055],[1929.2,0.21],[1929.4,0.25],[1929.55,0.165],[1929.7,0.035],[1930.0,-0.135],[1930.5,-0.125],[1930.8,-0.245],[1931.2,-0.335],
  [1931.45,-0.49],[1931.75,-0.69],[1932.1,-0.805],[1932.4,-0.865],[1932.85,-0.91],[1933.75,-0.92],[1934.3,-0.875],[1934.6,-0.785],[1934.8,-0.81],[1935.1,-0.85],
  [1935.7,-0.895],[1936.3,-0.90],[1936.95,-0.93],[1937.6,-0.875],[1938.4,-0.84],[1939.5,-0.81],[1940.1,-0.84],[1940.9,-0.855],[1941.2,-0.795],[1941.5,-0.69],
  [1941.85,-0.585],[1942.0,-0.42],[1942.25,-0.255],[1942.5,-0.135],[1942.8,-0.07],[1943.2,0.0],[1943.6,0.05],[1944.05,-0.01],[1944.4,-0.11],[1944.6,-0.225],
  [1944.85,-0.30],[1945.3,-0.255],[1945.6,-0.30],[1945.95,-0.18],[1946.4,-0.24],[1947.05,-0.255],[1947.7,-0.255],[1948.3,-0.355],[1949.1,-0.38],[1949.7,-0.33],
  [1950.35,-0.265],[1950.85,-0.21],[1951.1,-0.155],[1951.5,-0.20],[1951.6,-0.33],[1951.8,-0.445],[1951.95,-0.585],[1952.25,-0.685],[1952.55,-0.75],[1953.05,-0.805],
  [1953.75,-0.765],[1954.45,-0.755],[1954.8,-0.695],[1955.1,-0.545],[1955.3,-0.365],[1955.55,-0.035],[1955.7,0.155],[1956.05,0.295],[1956.65,0.375],[1957.1,0.34],
  [1957.45,0.295],[1957.7,0.145],[1957.9,0.01],[1958.25,-0.10],[1958.55,-0.155],[1958.85,-0.18],[1959.1,-0.31],[1959.35,-0.44],[1959.65,-0.54],[1960.0,-0.60],
  [1960.45,-0.65],[1960.9,-0.75],[1961.55,-0.81],[1962.0,-0.795],[1962.5,-0.765],[1962.95,-0.71],[1963.2,-0.765],[1963.6,-0.84],[1964.1,-0.885],[1965.0,-0.92],
  [1966.0,-0.95],[1967.2,-0.96],[1968.0,-0.91],[1968.8,-0.965],[1969.6,-0.965],[1970.55,-0.975],[1971.25,-0.92],[1972.2,-0.915],[1973.15,-0.89],[1974.0,-0.94],
  [1974.65,-0.965],[1975.75,-0.965],[1976.6,-0.91],[1977.15,-0.855],[1977.5,-0.80],[1977.7,-0.74],[1977.95,-0.62],[1978.2,-0.49],[1978.5,-0.545],[1978.8,-0.61],
  [1979.05,-0.675],[1979.35,-0.75],[1979.7,-0.795],[1980.3,-0.785],[1980.95,-0.83],[1981.6,-0.875],[1982.2,-0.865],[1982.5,-0.785],[1983.0,-0.695],[1983.8,-0.675],
  [1984.6,-0.71],[1985.35,-0.765],[1986.15,-0.85],[1986.5,-0.765],[1986.8,-0.71],[1987.1,-0.62],[1987.4,-0.50],[1987.7,-0.40],[1988.05,-0.225],[1988.5,-0.20],
  [1989.0,-0.245],[1989.45,-0.30],[1989.95,-0.40],[1990.4,-0.475],[1990.7,-0.585],[1991.05,-0.70],[1991.5,-0.765],[1992.15,-0.855],[1992.8,-0.865],[1993.7,-0.85],
  [1994.35,-0.91],[1995.0,-0.965],[1995.35,-0.99],[1995.9,-0.94],[1996.15,-0.765],[1996.4,-0.585],[1996.6,-0.345],[1996.85,-0.07],[1997.1,0.20],[1997.35,0.365],
  [1997.65,0.52],[1998.0,0.585],[1998.45,0.495],[1999.1,0.50],[1999.7,0.455],[2000.35,0.43],[2000.8,0.33],[2001.1,0.185],[2001.45,0.045],[2001.65,-0.09],
  [2002.05,-0.22],[2002.4,-0.40],[2002.7,-0.60],[2003.0,-0.71],[2003.5,-0.645],[2004.0,-0.49],[2004.45,-0.42],[2004.75,-0.33],[2005.1,-0.245],[2005.3,-0.135],
  [2005.65,-0.20],[2006.0,-0.33],[2006.2,-0.42],[2006.4,-0.585],[2006.65,-0.765],[2006.95,-0.855],[2007.35,-0.92],[2007.65,-0.965],[2008.05,-0.945],[2008.55,-0.93],
  [2009.0,-0.995],[2009.5,-0.95],[2010.3,-0.965]
];

// Panel B: zero reference line extent
const zeroLine: [number, number][] = [[1890.2, 0], [2011.4, 0]];

const GRID_LEFT = 138 / STRETCH;
const GRID_RIGHT = (FULL_W - 1618) / STRETCH;
const PLOT_CENTER = GRID_LEFT + (W - GRID_LEFT - GRID_RIGHT) / 2;

const yearLabel = (v: number) => String(v);
const corrLabel = (v: number) => String(v).replace("-", "\u2212");

function xAxisCfg(gridIndex: number, position: "top" | "bottom", showLabel: boolean, margin: number) {
  return {
    type: "value",
    gridIndex,
    position,
    min: yearMin,
    max: yearMax,
    interval: yearStep,
    splitLine: { show: false },
    axisLine: { onZero: false, lineStyle: { color: BLACK, width: 2 } },
    axisTick: { inside: true, length: 10, lineStyle: { color: BLACK, width: 1.4 } },
    axisLabel: {
      show: showLabel,
      color: BLACK,
      fontSize: 23,
      fontFamily: FONT,
      margin,
      formatter: yearLabel,
      showMinLabel: true,
      showMaxLabel: true,
    },
  };
}

export default function App() {
  const ref = useRef<HTMLDivElement>(null);

  useEffect(() => {
    if (!ref.current) return;
    const chart = echarts.init(ref.current, null, { renderer: "svg" });
    const gridCommon = { left: GRID_LEFT, right: GRID_RIGHT, containLabel: false, outerBoundsMode: "none" };
    const option: any = {
      animation: false,
      backgroundColor: "#ffffff",
      textStyle: { fontFamily: FONT },
      title: [
        {
          text: titleA, left: PLOT_CENTER, top: 9, textAlign: "center", padding: 0,
          textStyle: { fontSize: 24, fontWeight: "normal", color: BLACK, fontFamily: FONT },
        },
        {
          text: titleB, left: PLOT_CENTER + 3, top: 516, textAlign: "center", padding: 0,
          textStyle: { fontSize: 24, fontWeight: "normal", color: BLACK, fontFamily: FONT },
        },
      ],
      grid: [
        { ...gridCommon, top: 48, height: 365 },
        { ...gridCommon, top: 556, height: 365 },
      ],
      xAxis: [
        xAxisCfg(0, "bottom", true, 12),
        xAxisCfg(0, "top", false, 12),
        xAxisCfg(1, "bottom", true, 11),
        xAxisCfg(1, "top", false, 11),
      ],
      yAxis: [
        {
          type: "value", gridIndex: 0, position: "left", min: 0, max: 70, interval: 10,
          name: volName, nameLocation: "middle", nameRotate: 90, nameGap: 47, nameMoveOverlap: false,
          nameTextStyle: { color: BLUE, fontSize: 24, fontFamily: FONT },
          splitLine: { show: false },
          axisLine: { onZero: false, lineStyle: { color: BLUE, width: 1.5 } },
          axisTick: { inside: true, length: 10, lineStyle: { color: BLUE, width: 1.5 } },
          axisLabel: { color: BLUE, fontSize: 23, fontFamily: FONT, margin: 8, showMinLabel: true, showMaxLabel: true },
        },
        {
          type: "value", gridIndex: 0, position: "right", min: 0, max: 50, interval: 50,
          name: peName, nameLocation: "middle", nameRotate: 90, nameGap: 42, nameMoveOverlap: false,
          nameTextStyle: { color: GREEN, fontSize: 24, fontFamily: FONT },
          splitLine: { show: false },
          axisLine: { onZero: false, lineStyle: { color: GREEN, width: 1.5 } },
          axisTick: { inside: true, length: 10, lineStyle: { color: GREEN, width: 1.5 } },
          axisLabel: { color: GREEN, fontSize: 23, fontFamily: FONT, margin: 7, showMinLabel: true, showMaxLabel: true },
        },
        {
          type: "value", gridIndex: 0, position: "right", min: 0, max: 70, interval: 10,
          splitLine: { show: false },
          axisLine: { show: false, onZero: false },
          axisTick: { inside: true, length: 10, lineStyle: { color: BLUE, width: 1.5 } },
          axisLabel: { show: false },
        },
        {
          type: "value", gridIndex: 1, position: "left", min: -1, max: 1, interval: 0.5,
          name: corrName, nameLocation: "middle", nameRotate: 90, nameGap: 66, nameMoveOverlap: false,
          nameTextStyle: { color: BLACK, fontSize: 24, fontFamily: FONT },
          splitLine: { show: false },
          axisLine: { onZero: false, lineStyle: { color: BLACK, width: 1.5 } },
          axisTick: { inside: true, length: 10, lineStyle: { color: BLACK, width: 1.5 } },
          axisLabel: { color: BLACK, fontSize: 23, fontFamily: FONT, margin: 8, formatter: corrLabel, showMinLabel: true, showMaxLabel: true },
        },
        {
          type: "value", gridIndex: 1, position: "right", min: -1, max: 1, interval: 0.5,
          splitLine: { show: false },
          axisLine: { onZero: false, lineStyle: { color: BLACK, width: 1.5 } },
          axisTick: { inside: true, length: 10, lineStyle: { color: BLACK, width: 1.5 } },
          axisLabel: { show: false },
        },
      ],
      series: [
        {
          name: "Volatility", type: "line", xAxisIndex: 0, yAxisIndex: 0, data: volData,
          symbol: "none", silent: true, z: 2,
          lineStyle: { color: BLUE, width: 2.4, join: "round", cap: "round" },
          itemStyle: { color: BLUE },
        },
        {
          name: "P/E Ratio", type: "line", xAxisIndex: 0, yAxisIndex: 1, data: peData,
          symbol: "none", silent: true, z: 3,
          lineStyle: { color: GREEN, width: 5.5, join: "round", cap: "round" },
          itemStyle: { color: GREEN },
        },
        {
          name: "Upper band", type: "line", xAxisIndex: 2, yAxisIndex: 3, data: upperData,
          symbol: "none", silent: true, z: 2,
          lineStyle: { color: GREEN, width: 1.3, type: [1.5, 6] },
          itemStyle: { color: GREEN },
        },
        {
          name: "Lower band", type: "line", xAxisIndex: 2, yAxisIndex: 3, data: lowerData,
          symbol: "none", silent: true, z: 2,
          lineStyle: { color: RED, width: 1.3, type: [1.5, 6] },
          itemStyle: { color: RED },
        },
        {
          name: "Zero", type: "line", xAxisIndex: 2, yAxisIndex: 3, data: zeroLine,
          symbol: "none", silent: true, z: 3,
          lineStyle: { color: BLACK, width: 2.5, type: [14.3, 14.3] },
          itemStyle: { color: BLACK },
        },
        {
          name: "Correlation", type: "line", xAxisIndex: 2, yAxisIndex: 3, data: corrData,
          symbol: "none", silent: true, z: 4,
          lineStyle: { color: BLUE, width: 5, join: "round", cap: "round" },
          itemStyle: { color: BLUE },
        },
      ],
    };
    chart.setOption(option);
    return () => chart.dispose();
  }, []);

  return (
    <div
      ref={ref}
      style={{
        position: "absolute",
        left: 0,
        top: 0,
        width: W,
        height: FULL_H,
        transform: `scaleX(${STRETCH})`,
        transformOrigin: "0 0",
        background: "#ffffff",
      }}
    />
  );
}
